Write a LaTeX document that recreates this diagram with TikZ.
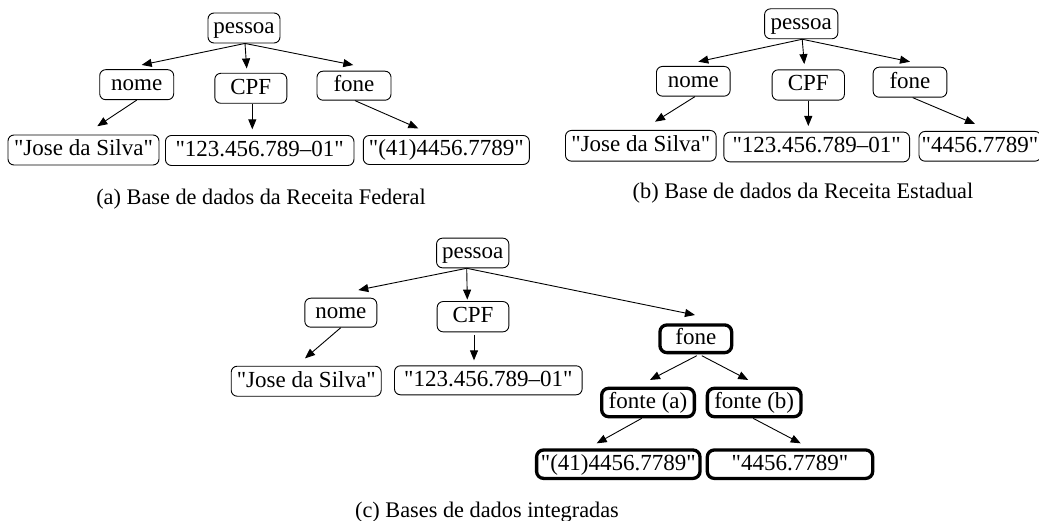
\documentclass[tikz,border=0pt]{standalone}
\usepackage{fontspec}
\setmainfont{Liberation Serif}[Ligatures=TeXOff]
\usetikzlibrary{arrows.meta}
\begin{document}
\begin{tikzpicture}[x=1pt,y=-1pt,
  box/.style={font=\fontsize{23}{27}\selectfont, draw, rounded corners=6pt,
    line width=0.9pt, inner sep=0pt, text height=16.5pt, text depth=4.5pt, align=center},
  hbox/.style={box, line width=3.3pt, rounded corners=7pt},
  sz/.style 2 args={minimum width=#1pt, minimum height=#2pt},
  arr/.style={-{Triangle[length=10pt,width=8pt]}, line width=0.9pt},
  captext/.style={font=\fontsize{22.3}{26}\selectfont, anchor=base, inner sep=0pt}]
\useasboundingbox (0,0) rectangle (1039,521);

% (a) Receita Federal
\node[box, sz={72}{30}]   (pa)  at (244,28)     {pessoa};
\node[box, sz={74}{30}]   (na)  at (136.7,84.7) {nome};
\node[box, sz={72}{30}]   (ca)  at (250.8,88.3) {CPF};
\node[box, sz={74}{29}]   (fa)  at (354,85.7)   {fone};
\node[box, sz={151}{30}]  (ja)  at (83.5,150)   {"Jose da Silva"};
\node[box, sz={188.5}{30}] (ia) at (259.7,150.5) {"123.456.789–01"};
\node[box, sz={166}{29}]  (ta)  at (446.3,150)  {"(41)4456.7789"};
\node[captext] (capa) at (261,205) {(a) Base de dados da Receita Federal};

\draw[arr] ([xshift=1pt]pa.south) -- ([xshift=5pt,yshift=4.3pt]na.north);
\draw[arr] ([xshift=1pt]pa.south) -- ([xshift=-4.1pt,yshift=4.4pt]ca.north);
\draw[arr] ([xshift=1pt]pa.south) -- ([xshift=-0.7pt,yshift=5.7pt]fa.north);
\draw[arr] (na.south) -- ([xshift=13.8pt,yshift=8.3pt]ja.north);
\draw[arr] ([xshift=1.5pt]ca.south) -- ([xshift=-7.4pt,yshift=5.7pt]ia.north);
\draw[arr] ([xshift=1pt]fa.south) -- ([xshift=-28pt,yshift=6.7pt]ta.north);

% (b) Receita Estadual
\node[box, sz={73.3}{30}]  (pb)  at (801.2,23.8) {pessoa};
\node[box, sz={73.7}{29.7}] (nb) at (693.3,81.3) {nome};
\node[box, sz={72.3}{30.3}] (cb) at (808.3,85)   {CPF};
\node[box, sz={73.7}{30}]  (fb)  at (910,82.2)   {fone};
\node[box, sz={150.7}{30.7}] (jb) at (640.8,145.8) {"Jose da Silva"};
\node[box, sz={185.7}{29.7}] (ib) at (816.7,147)  {"123.456.789–01"};
\node[box, sz={122}{29.7}] (tb)  at (980,146.3)  {"4456.7789"};
\node[captext] (capb) at (803,199) {(b) Base de dados da Receita Estadual};

\draw[arr] ([xshift=1pt]pb.south) -- ([xshift=5pt,yshift=4.3pt]nb.north);
\draw[arr] ([xshift=1pt]pb.south) -- ([xshift=-4pt,yshift=5.3pt]cb.north);
\draw[arr] ([xshift=1pt]pb.south) -- ([yshift=5pt]fb.north);
\draw[arr] ([xshift=1.7pt]nb.south) -- ([xshift=14.2pt,yshift=8.3pt]jb.north);
\draw[arr] (cb.south) -- ([xshift=-8.4pt,yshift=5.7pt]ib.north);
\draw[arr] ([xshift=2.7pt]fb.south) -- ([xshift=-5pt,yshift=7pt]tb.north);

% (c) bases integradas
\node[box, sz={72.3}{29.7}] (pc) at (472.7,253)   {pessoa};
\node[box, sz={72}{29}]     (nc) at (340.8,312.7) {nome};
\node[box, sz={71.7}{30.3}] (cc) at (473,316.7)   {CPF};
\node[box, sz={150}{30}]    (jc) at (306.2,381.2) {"Jose da Silva"};
\node[box, sz={187.7}{29}]  (ic) at (488.3,380.3) {"123.456.789–01"};
\node[hbox, sz={71.7}{27.7}] (fc)  at (695.8,338.8) {fone};
\node[hbox, sz={92.7}{28.4}] (fac) at (648,402.5)   {fonte (a)};
\node[hbox, sz={93.7}{28.4}] (fbc) at (754.2,402.5) {fonte (b)};
\node[hbox, sz={163.4}{28.4}] (tc1) at (618.3,464.2) {"(41)4456.7789"};
\node[hbox, sz={165.4}{28.4}] (tc2) at (790,464.2)   {"4456.7789"};
\node[captext] (capc) at (487,517.5) {(c) Bases de dados integradas};

\draw[arr] ([xshift=-6pt]pc.south) -- ([xshift=17.5pt,yshift=7.7pt]nc.north);
\draw[arr] ([xshift=-6pt]pc.south) -- ([xshift=-5.7pt,yshift=1.5pt]cc.north);
\draw[arr] ([xshift=-6pt]pc.south) -- ([xshift=-0.8pt,yshift=8.3pt]fc.north);
\draw[arr] (nc.south) -- ([xshift=-1.2pt,yshift=7.4pt]jc.north);
\draw[arr] ([xshift=1pt,yshift=-2.7pt]cc.south) -- ([xshift=-14.3pt,yshift=5pt]ic.north);
\draw[arr] ([xshift=1pt,yshift=-1.4pt]fc.south) -- ([xshift=2pt,yshift=6.7pt]fac.north);
\draw[arr] ([xshift=6pt,yshift=-1.4pt]fc.south) -- ([xshift=-6pt,yshift=6.7pt]fbc.north);
\draw[arr] ([xshift=-6.3pt]fac.south) -- ([xshift=-21.6pt,yshift=5pt]tc1.north);
\draw[arr] ([xshift=-1pt]fbc.south) -- ([xshift=10.7pt,yshift=5pt]tc2.north);
\end{tikzpicture}
\end{document}
